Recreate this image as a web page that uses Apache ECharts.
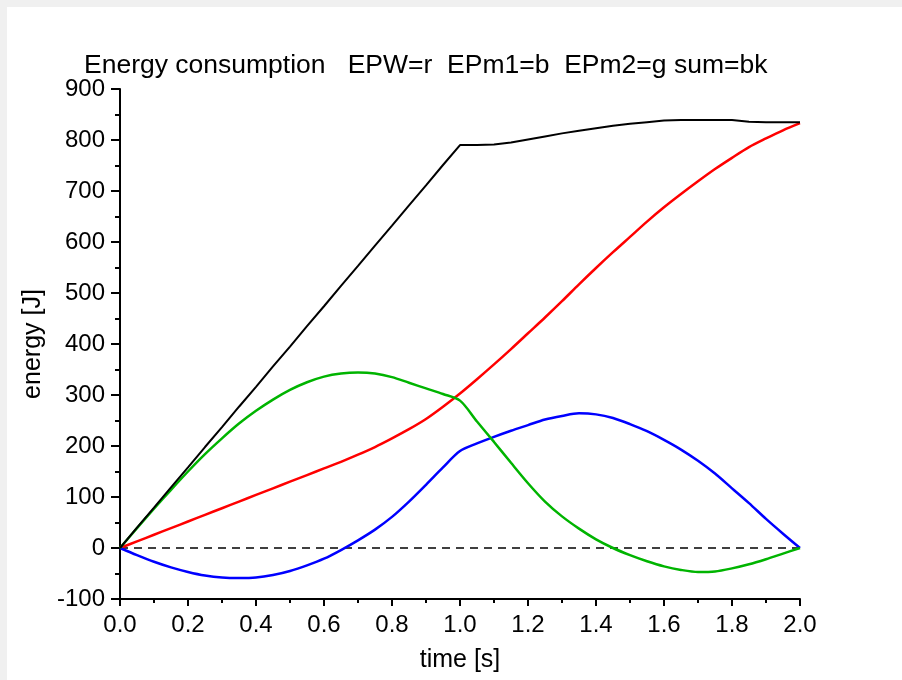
<!DOCTYPE html>
<html>
<head>
<meta charset="utf-8">
<title>Energy consumption</title>
<script src="https://cdn.jsdelivr.net/npm/echarts@6/dist/echarts.min.js"></script>
<style>
  html, body {
    margin: 0;
    padding: 0;
    width: 902px;
    height: 680px;
    background: #f0f0f0;
    overflow: hidden;
  }
  #main {
    position: absolute;
    left: 7px;
    top: 7px;
    width: 895px;
    height: 673px;
    background: #fff;
  }
</style>
</head>
<body>
<div id="main"></div>
<script>
  // time [s]
  const timeList = [
    0, 0.05, 0.1, 0.15, 0.2, 0.25, 0.3, 0.35, 0.4, 0.45,
    0.5, 0.55, 0.6, 0.65, 0.7, 0.75, 0.8, 0.85, 0.9, 0.95,
    1.0, 1.05, 1.1, 1.15, 1.2, 1.25, 1.3, 1.35, 1.4, 1.45,
    1.5, 1.55, 1.6, 1.65, 1.7, 1.75, 1.8, 1.85, 1.9, 1.95, 2.0,
  ];

  // EPW (red)
  const epwList = [
    0, 13, 26, 39, 52, 65, 78, 91, 104, 117,
    130, 143, 156, 169, 183, 198, 215, 233, 253, 277,
    303, 331, 360, 390, 421, 452, 484, 517, 549, 580,
    610, 640, 668, 694, 719, 743, 765, 786, 803, 819, 833,
  ];

  // EPm1 (blue)
  const epm1List = [
    0, -14, -27, -38, -47, -54, -58, -59, -58, -53,
    -45, -34, -21, -4, 15, 36, 61, 91, 124, 158,
    190, 205, 218, 230, 241, 252, 259, 264, 262, 255,
    243, 229, 212, 193, 171, 146, 117, 88, 57, 28, 0,
  ];

  // EPm2 (green)
  const epm2List = [
    0, 39, 77, 114, 150, 184, 215, 244, 269, 291,
    310, 325, 336, 342, 344, 342, 335, 324, 313, 302,
    289, 248, 208, 167, 127, 91, 62, 38, 17, 0,
    -14, -26, -36, -43, -47, -46, -40, -32, -22, -11, 0,
  ];

  // sum (black)
  const sumList = [
    0, 40, 79, 119, 158, 198, 237, 277, 316, 356,
    395, 435, 474, 514, 553, 593, 632, 672, 711, 751,
    790, 790, 791, 795, 801, 807, 813, 818, 823, 828,
    832, 835, 838, 839, 839, 839, 839, 836, 835, 835, 835,
  ];

  // dashed zero reference line
  const zeroLine = [[0, 0], [2, 0]];

  const pairs = list => timeList.map((t, i) => [t, list[i]]);

  const fontFamily = '"Liberation Sans", Arial, Helvetica, sans-serif';

  const axisBase = {
    axisLine: {
      onZero: false,
      lineStyle: {
        color: '#000',
        width: 2,
      },
    },
    axisLabel: {
      color: '#000',
      fontSize: 24,
      fontFamily,
    },
    splitLine: {
      show: false,
    },
    nameTextStyle: {
      color: '#000',
      fontSize: 25,
      fontFamily,
    },
  };

  const myChart = echarts.init(document.getElementById('main'));

  myChart.setOption({
    animation: false,
    title: {
      text: 'Energy consumption   EPW=r  EPm1=b  EPm2=g sum=bk',
      left: 72,
      top: 40,
      textStyle: {
        color: '#000',
        fontSize: 26.5,
        fontWeight: 'normal',
        fontFamily,
      },
    },
    grid: {
      left: 113,
      right: 102,
      top: 82,
      bottom: 81,
    },
    xAxis: {
      ...axisBase,
      type: 'value',
      min: 0,
      max: 2,
      interval: 0.2,
      name: 'time [s]',
      nameLocation: 'middle',
      nameGap: 49,
      axisTick: {
        inside: false,
        length: 7,
        lineStyle: { color: '#000', width: 2 },
      },
      minorTick: {
        show: true,
        splitNumber: 2,
        length: 4,
        lineStyle: { color: '#000', width: 2 },
      },
      axisLabel: {
        ...axisBase.axisLabel,
        margin: 14,
        formatter: value => value.toFixed(1),
      },
    },
    yAxis: {
      ...axisBase,
      type: 'value',
      min: -100,
      max: 900,
      interval: 100,
      name: 'energy [J]',
      nameLocation: 'middle',
      nameGap: 66,
      axisTick: {
        inside: false,
        length: 9,
        lineStyle: { color: '#000', width: 2 },
      },
      minorTick: {
        show: true,
        splitNumber: 2,
        length: 5,
        lineStyle: { color: '#000', width: 2 },
      },
      axisLabel: {
        ...axisBase.axisLabel,
        margin: 15,
      },
    },
    series: [
      {
        name: 'zero',
        type: 'line',
        data: zeroLine,
        symbol: 'none',
        silent: true,
        lineStyle: {
          color: '#000',
          width: 1.5,
          type: [8, 6],
        },
      },
      {
        name: 'EPW',
        type: 'line',
        data: pairs(epwList),
        symbol: 'none',
        smooth: 0.3,
        lineStyle: { color: '#ff0000', width: 2.5 },
      },
      {
        name: 'EPm1',
        type: 'line',
        data: pairs(epm1List),
        symbol: 'none',
        smooth: 0.3,
        lineStyle: { color: '#0000ff', width: 2.5 },
      },
      {
        name: 'EPm2',
        type: 'line',
        data: pairs(epm2List),
        symbol: 'none',
        smooth: 0.3,
        lineStyle: { color: '#00b400', width: 2.5 },
      },
      {
        name: 'sum',
        type: 'line',
        data: pairs(sumList),
        symbol: 'none',
        lineStyle: { color: '#000', width: 2 },
      },
    ],
  });
</script>
</body>
</html>
